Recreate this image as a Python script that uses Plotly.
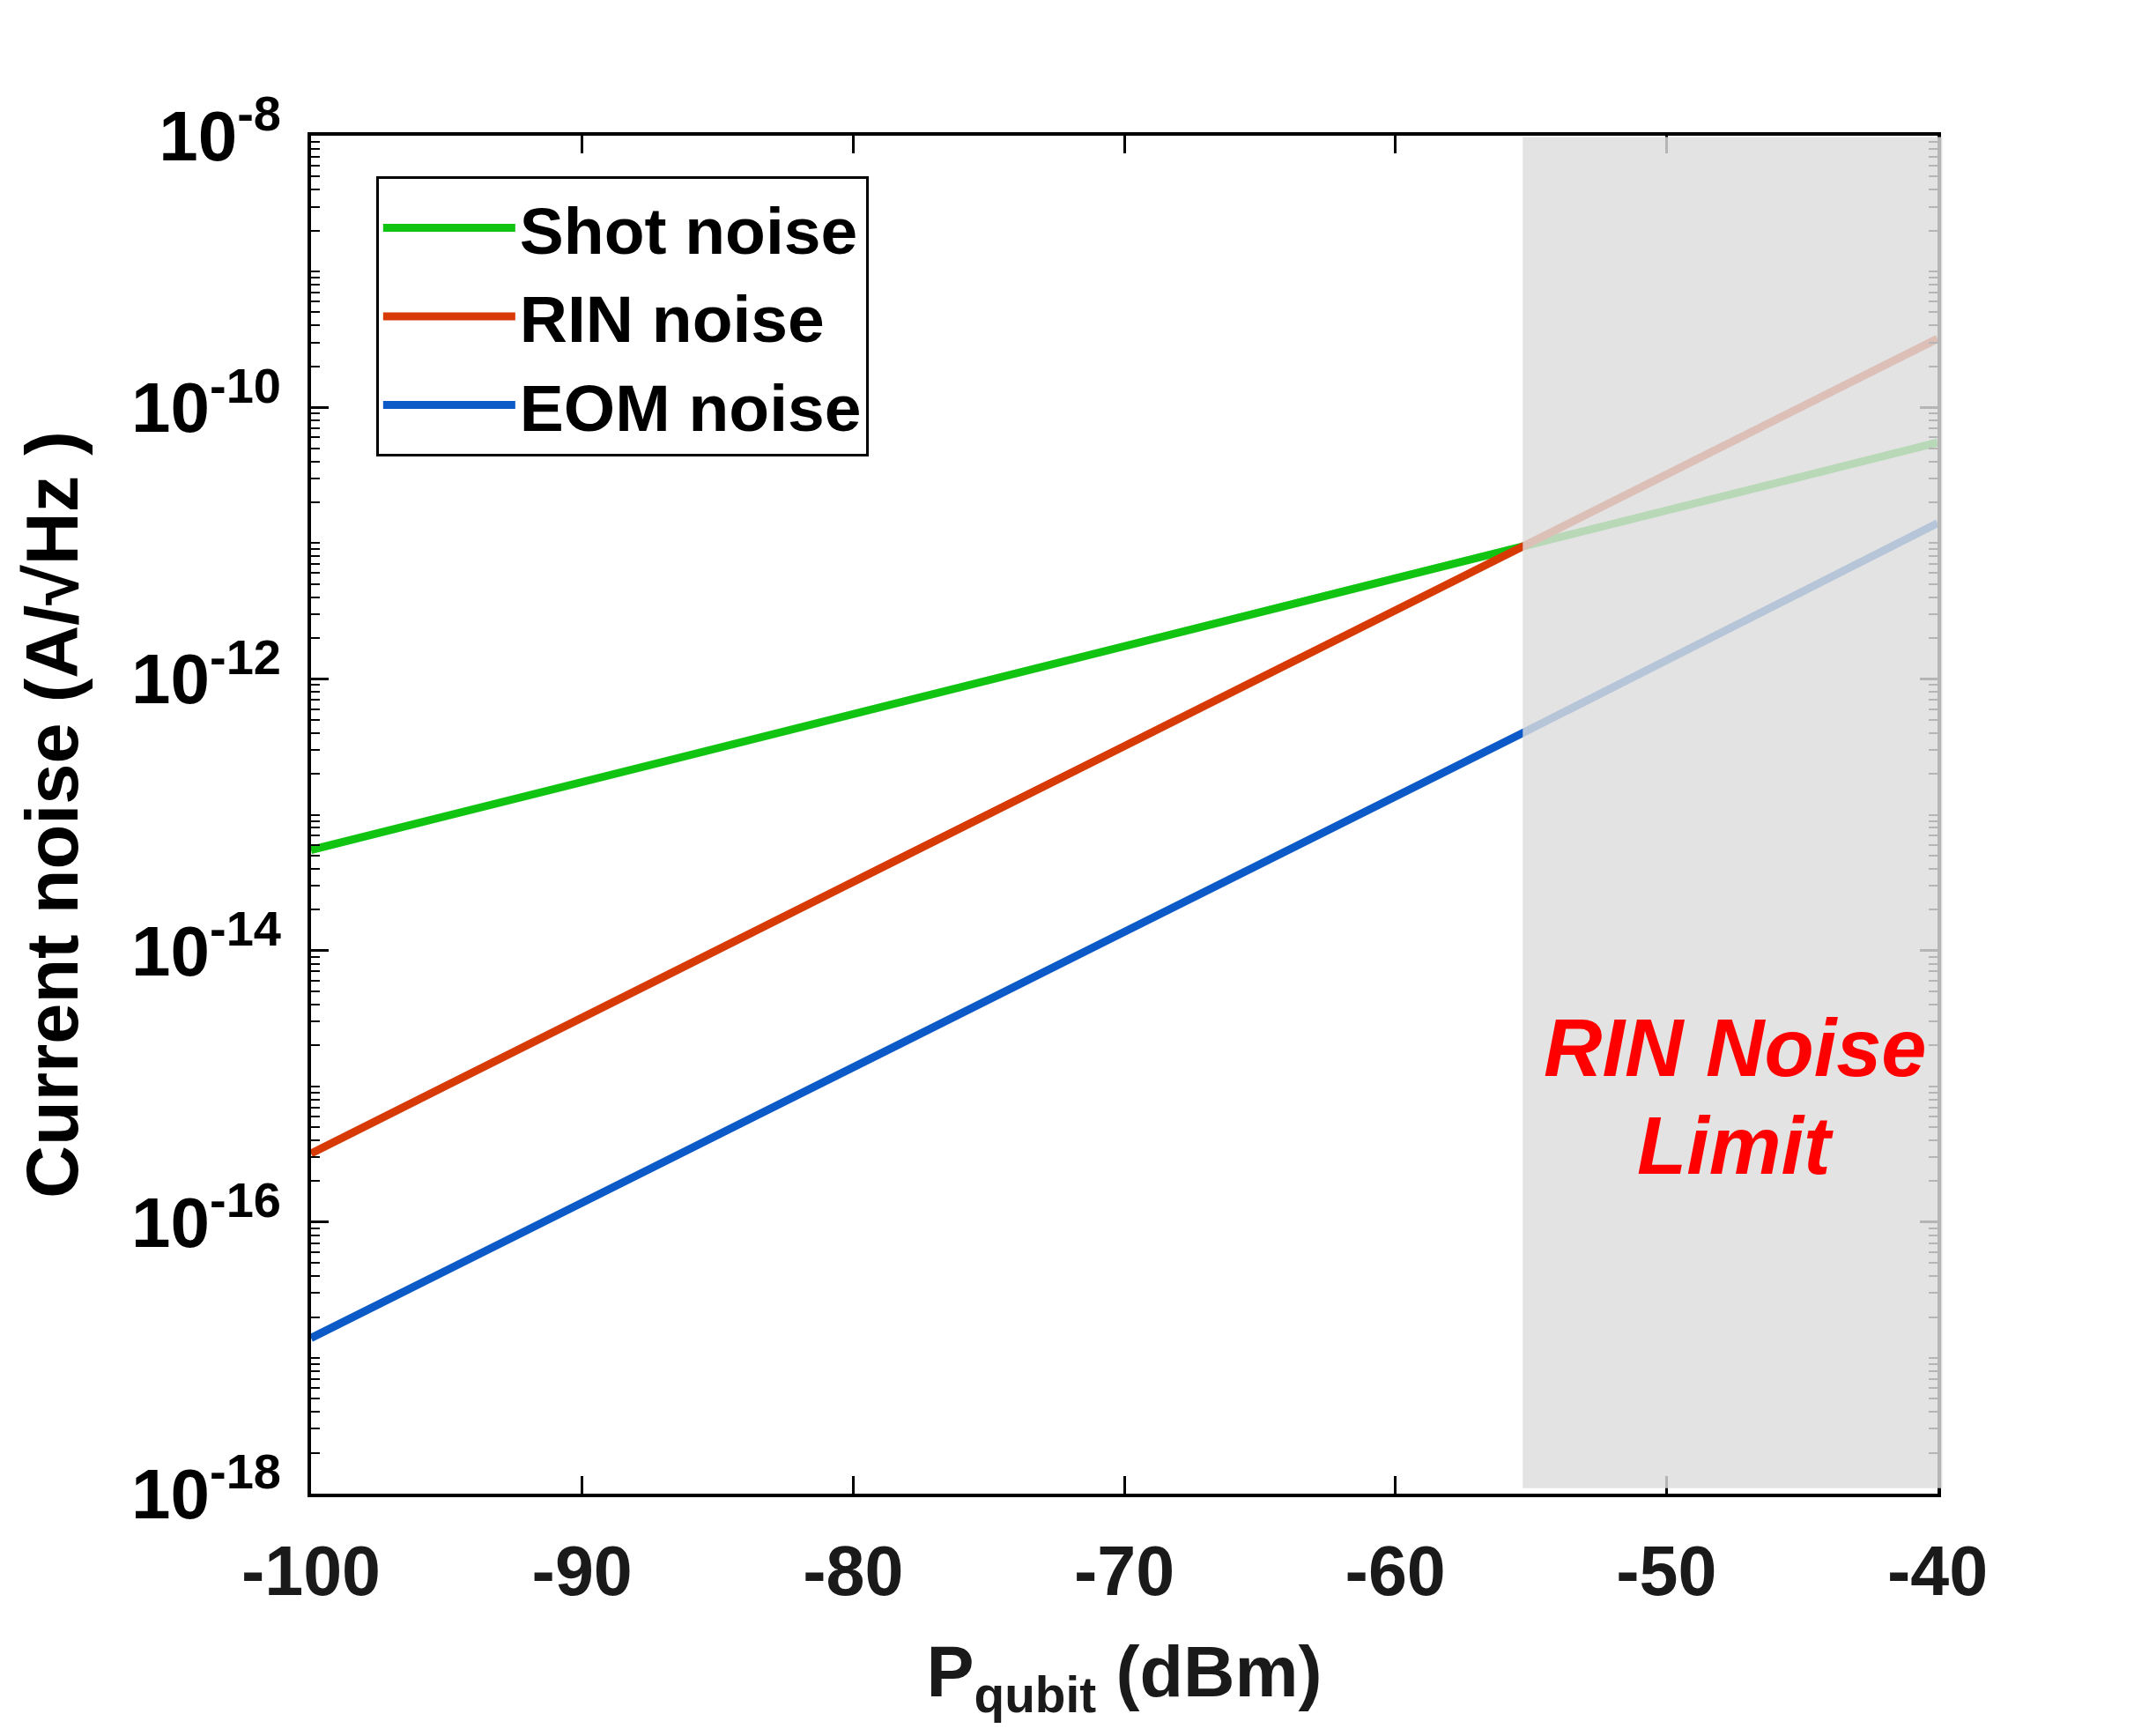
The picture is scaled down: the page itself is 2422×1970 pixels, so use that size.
import plotly.graph_objects as go

# ---- data ----
power_dbm = [-100, -55.3, -40]
shot_noise = [5.5e-14, 9.3e-12, 5.5e-11]
rin_noise = [3.2e-16, 9.3e-12, 3.2e-10]
eom_noise = [1.4e-17, 4.0e-13, 1.4e-11]

series_names = ["Shot noise", "RIN noise", "EOM noise"]
series_colors = ["#12C412", "#D83A06", "#0C5AC8"]

limit_start = -55.3
x_range = [-100, -40]

ytick_vals = [1e-18, 1e-16, 1e-14, 1e-12, 1e-10, 1e-8]
ytick_text = ["10<sup>-18</sup>", "10<sup>-16</sup>", "10<sup>-14</sup>",
              "10<sup>-12</sup>", "10<sup>-10</sup>", "10<sup>-8</sup>"]
xtick_vals = [-100, -90, -80, -70, -60, -50, -40]
xtick_text = ["-100", "-90", "-80", "-70", "-60", "-50", "-40"]

FONT = "Liberation Sans"

fig = go.Figure()
for name, ys, col in zip(series_names, [shot_noise, rin_noise, eom_noise], series_colors):
    fig.add_trace(go.Scatter(x=power_dbm, y=ys, mode="lines", name=name,
                             line=dict(color=col, width=9)))

# semi-transparent gray overlay marking the RIN-noise-limited region
# (paper coordinates so that it also veils the right axis line)
x0_paper = (limit_start - x_range[0]) / (x_range[1] - x_range[0])
fig.add_shape(type="rect", xref="paper", yref="paper",
              x0=x0_paper, x1=1.003, y0=0.004, y1=0.999,
              fillcolor="rgba(221,221,221,0.82)", line=dict(width=0),
              layer="above")

fig.add_annotation(x=-47.45, y=0.294, xref="x", yref="paper", text="RIN Noise",
                   showarrow=False,
                   font=dict(family=FONT, size=92, color="#FF0000", weight="bold", style="italic"))
fig.add_annotation(x=-47.45, y=0.222, xref="x", yref="paper", text="Limit",
                   showarrow=False,
                   font=dict(family=FONT, size=92, color="#FF0000", weight="bold", style="italic"))

axis_common = dict(showgrid=False, zeroline=False, showline=True, linecolor="black",
                   linewidth=4, mirror="ticks", ticks="inside", tickcolor="black",
                   tickwidth=3)

fig.update_xaxes(range=x_range, tickmode="array", tickvals=xtick_vals, ticktext=xtick_text,
                 ticklen=20, ticklabelstandoff=16,
                 tickfont=dict(family=FONT, size=79, color="#1a1a1a", weight="bold"),
                 title=dict(text="P<sub>qubit</sub> (dBm)", standoff=44,
                            font=dict(family=FONT, size=81, color="#1a1a1a", weight="bold")),
                 **axis_common)
fig.update_yaxes(type="log", range=[-18, -8], tickmode="array", tickvals=ytick_vals,
                 ticktext=ytick_text, ticklen=20, ticklabelstandoff=14,
                 minor=dict(dtick="D1", ticks="inside", ticklen=10, tickwidth=2,
                            tickcolor="black", showgrid=False),
                 tickfont=dict(family=FONT, size=80, color="black", weight="bold"),
                 title=dict(text="Current noise (A/√Hz )", standoff=34,
                            font=dict(family=FONT, size=83, color="black", weight="bold")),
                 **axis_common)

fig.update_layout(
    width=2422, height=1970,
    margin=dict(l=345, r=231, t=146, b=283, autoexpand=False),
    paper_bgcolor="white", plot_bgcolor="white",
    showlegend=True,
    legend=dict(x=0.040, y=0.970, xanchor="left", yanchor="top",
                bgcolor="white", bordercolor="black", borderwidth=3,
                font=dict(family=FONT, size=75, color="black", weight="bold"),
                itemwidth=150, tracegroupgap=0),
)

fig.write_html("out.html")
